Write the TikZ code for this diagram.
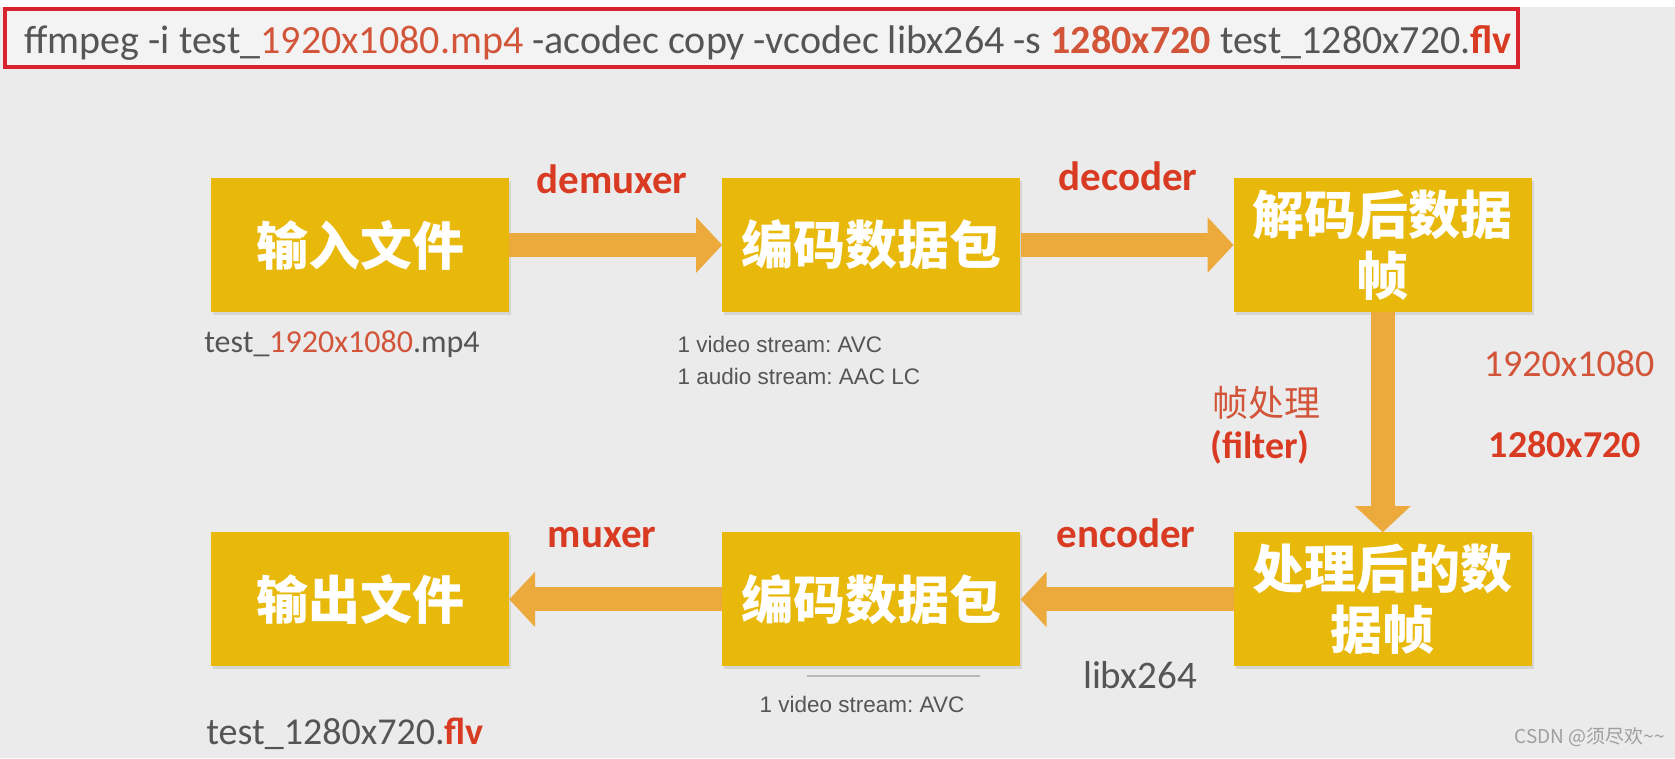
\documentclass[tikz,border=0pt]{standalone}
\usepackage{fontspec}
\setmainfont{Carlito}
\newfontfamily\cjk{Noto Sans CJK SC}
\newfontfamily\arialfont{Liberation Sans}
\usepackage{xcolor}
\usetikzlibrary{positioning,arrows.meta,shadows}
\frenchspacing

\definecolor{boxgold}{HTML}{E8B80A}
\definecolor{arroworange}{HTML}{ECA93C}
\definecolor{labelred}{HTML}{D93A22}
\definecolor{numred}{HTML}{D2553A}
\definecolor{txtgray}{HTML}{555555}
\definecolor{bggray}{HTML}{EBEBEB}
\definecolor{framered}{HTML}{D8232E}

\begin{document}
\begin{tikzpicture}[x=1pt, y=-1pt,
    box/.style={rectangle, fill=boxgold, minimum width=298pt, minimum height=134pt, align=center, inner sep=0pt, text=white, font=\cjk\bfseries\fontsize{52}{61}\selectfont, drop shadow={shadow xshift=2pt, shadow yshift=-3pt, opacity=0.2}},
    arrow/.style={-{Triangle[width=54pt,length=26pt]}, draw=arroworange, line width=24pt},
    lbl/.style={text=labelred, font=\bfseries\fontsize{41}{48}\selectfont},
    num/.style={text=numred, font=\fontsize{38}{44}\selectfont},
    fname/.style={text=txtgray, font=\fontsize{32}{38}\selectfont},
    note/.style={text=txtgray, align=left, font=\arialfont\fontsize{22.5}{32}\selectfont},
    node distance=213pt
]

% background and command line
\fill[bggray] (0,0) rectangle (1675,758);
\fill[white] (0,0) rectangle (1675,7);
\useasboundingbox (0,0) rectangle (1675,758);
\draw[framered, line width=4pt, fill=bggray!60!white] (5,9) rectangle (1518,67);
\node[anchor=base west, text=txtgray, font=\fontsize{40}{46}\selectfont] (cmd) at (21,53)
    {ffmpeg -i test\_\textcolor{numred}{1920x1080.mp4} -acodec copy -vcodec libx264 -s \textcolor{numred}{\textbf{1280x720}} test\_1280x720.\textcolor{labelred}{\textbf{flv}}};

% top row
\node[box] (infile) at (360,245) {输入文件};
\node[box, right=of infile] (pkt) {编码数据包};
\node[box, right=of pkt] (frame) {解码后数据\\帧};

% bottom row
\node[box, below=220pt of frame] (proc) {处理后的数\\据帧};
\node[box, left=of proc] (encpkt) {编码数据包};
\node[box, left=of encpkt] (outfile) {输出文件};

% arrows
\draw[arrow] (infile.east) -- (pkt.west);
\draw[arrow] (pkt.east) -- (frame.west);
\draw[arrow] (frame.south) -- (proc.north);
\draw[arrow] (proc.west) -- (encpkt.east);
\draw[arrow] (encpkt.west) -- (outfile.east);

% stage labels
\node[lbl] (demux) at (612,179) {demuxer};
\node[lbl] (dec) at (1128,176) {decoder};
\node[lbl] (enc) at (1126,533) {encoder};
\node[lbl] (mux) at (602,538) {muxer};

% filter labels
\node[text=numred, font=\cjk\fontsize{36}{42}\selectfont] (fproc) at (1266,403) {帧处理};
\node[lbl, font=\bfseries\fontsize{38}{44}\selectfont] (filt) at (1260,447) {(filter)};
\node[num] (insize) at (1569,364) {1920x1080};
\node[num, text=labelred, font=\bfseries\fontsize{38}{44}\selectfont] (outsize) at (1565,445) {1280x720};

% file and stream notes
\node[fname] (inname) at (342,344) {test\_\textcolor{numred}{1920x1080}.mp4};
\node[note, anchor=north west] (instreams) at (674,333) {1 video stream: AVC\\1 audio stream: AAC LC};
\node[fname, font=\fontsize{39}{44}\selectfont] (codec) at (1140,675) {libx264};
\draw[gray!55, line width=2pt] (807,676) -- (980,676);
\node[note] (outstreams) at (862,704) {1 video stream: AVC};
\node[fname, anchor=base, font=\fontsize{38}{44}\selectfont] (outname) at (345,744) {test\_1280x720.\textcolor{labelred}{\textbf{flv}}};

% watermark
\node[text=gray!75, font=\cjk\fontsize{19}{22}\selectfont] (mark) at (1590,737) {CSDN @须尽欢\textasciitilde\textasciitilde};

\end{tikzpicture}
\end{document}
